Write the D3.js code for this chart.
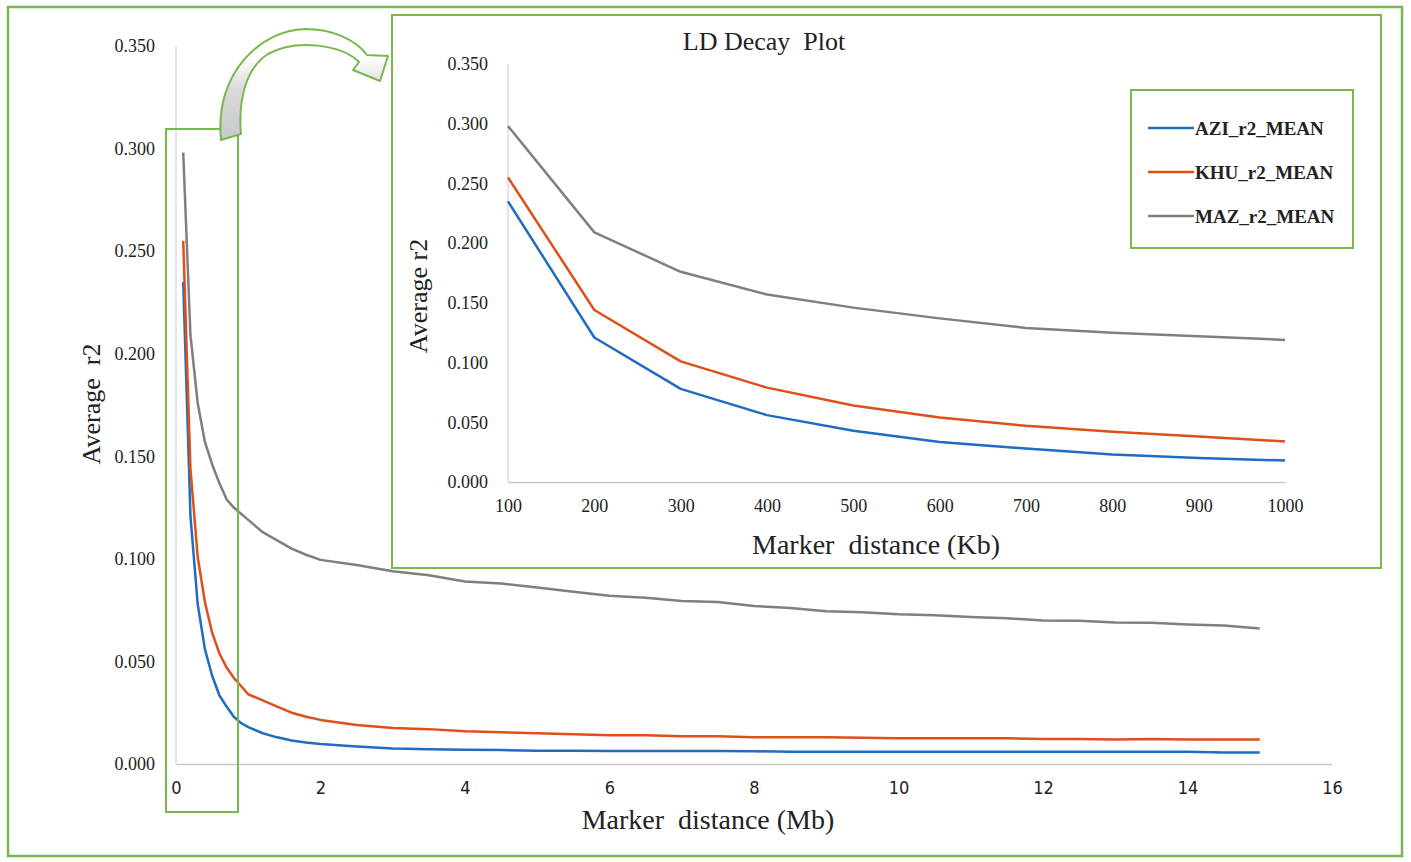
<!DOCTYPE html>
<html>
<head>
<meta charset="utf-8">
<script src="https://cdn.jsdelivr.net/npm/d3@7"></script>
<style>
  body { margin: 0; background: #fff; }
  text { fill: #222; }
</style>
</head>
<body>
<svg id="chart" width="1411" height="862"></svg>
<script>
// distances in Mb, the first ten are the 100..1000 Kb points shown in the inset
var distMb = [0.1,0.2,0.3,0.4,0.5,0.6,0.7,0.8,0.9,1.0,
  1.2,1.4,1.6,1.8,2.0,2.5,3,3.5,4,4.5,5,5.5,6,6.5,7,7.5,8,8.5,9,9.5,10,
  10.5,11,11.5,12,12.5,13,13.5,14,14.5,15];
var aziMean = [0.235,0.121,0.078,0.056,0.043,0.0335,0.028,0.023,0.020,0.018,
  0.015,0.013,0.0115,0.0105,0.0097,0.0085,0.0075,0.0072,0.0070,0.0068,0.0065,
  0.0064,0.0063,0.0063,0.0063,0.0063,0.0062,0.0060,0.0060,0.0060,0.0060,
  0.0060,0.0060,0.0060,0.0060,0.0060,0.0060,0.0060,0.0060,0.0056,0.0056];
var khuMean = [0.255,0.144,0.101,0.079,0.064,0.054,0.047,0.042,0.038,0.034,
  0.031,0.028,0.025,0.023,0.0215,0.019,0.0175,0.017,0.016,0.0155,0.015,
  0.0145,0.014,0.014,0.0135,0.0135,0.013,0.013,0.013,0.0128,0.0125,
  0.0125,0.0125,0.0125,0.0122,0.0122,0.012,0.0122,0.012,0.012,0.012];
var mazMean = [0.298,0.209,0.176,0.157,0.146,0.137,0.129,0.125,0.122,0.119,
  0.113,0.109,0.105,0.102,0.0995,0.097,0.094,0.092,0.089,0.088,0.086,
  0.084,0.082,0.081,0.0795,0.079,0.077,0.076,0.0745,0.074,0.073,
  0.0725,0.0717,0.071,0.070,0.0698,0.069,0.0688,0.068,0.0675,0.066];

var seriesNames = ["AZI_r2_MEAN", "KHU_r2_MEAN", "MAZ_r2_MEAN"];
var seriesColors = ["#1f6cc0", "#de4f1a", "#7f7f7f"];
var seriesValues = [aziMean, khuMean, mazMean];

var mainXTicks = [0,2,4,6,8,10,12,14,16];
var yTicks = [0,0.05,0.1,0.15,0.2,0.25,0.3,0.35];
var insetXTicks = [100,200,300,400,500,600,700,800,900,1000];
var insetCount = 10;

var green = "#77b84f";
var serif = "'Liberation Serif','Times New Roman',serif";
var narrow = "'Liberation Sans Narrow','DejaVu Sans Condensed','Liberation Sans',sans-serif";

var svg = d3.select("#chart");

// outer frame
svg.append("rect")
  .attr("x", 8).attr("y", 7).attr("width", 1394).attr("height", 849)
  .attr("fill", "#fff").attr("stroke", green).attr("stroke-width", 2.5);

// ---------- main chart ----------
var x = d3.scaleLinear().domain([0, 16]).range([176, 1332]);
var y = d3.scaleLinear().domain([0, 0.35]).range([764, 46]);

svg.append("line")
  .attr("x1", x(0)).attr("x2", x(0)).attr("y1", y(0)).attr("y2", y(0.35))
  .attr("stroke", "#d4d4d4").attr("stroke-width", 1.2);

svg.append("g")
  .attr("transform", "translate(0," + y(0) + ")")
  .call(d3.axisBottom(x).tickValues(mainXTicks).tickSize(0).tickPadding(17).tickFormat(d3.format("d")))
  .call(function(g) {
    g.select(".domain").attr("stroke", "#c8c8c8").attr("stroke-width", 1.5);
    g.selectAll("text").style("font-family", narrow)
      .style("font-size", "18px").attr("fill", "#333");
  });

svg.append("g")
  .attr("transform", "translate(" + (x(0) - 18) + ",0)")
  .call(d3.axisLeft(y).tickValues(yTicks).tickSize(0).tickFormat(d3.format(".3f")))
  .call(function(g) {
    g.select(".domain").remove();
    g.selectAll("text").style("font-family", serif).style("font-size", "18px").attr("fill", "#333");
  });

var mainLine = d3.line()
  .x(function(d) { return x(d[0]); })
  .y(function(d) { return y(d[1]); });

seriesValues.forEach(function(vals, i) {
  svg.append("path")
    .datum(distMb.map(function(d, j) { return [d, vals[j]]; }))
    .attr("fill", "none")
    .attr("stroke", seriesColors[i])
    .attr("stroke-width", 2.5)
    .attr("stroke-linejoin", "round")
    .attr("d", mainLine);
});

svg.append("text")
  .attr("x", 708).attr("y", 829)
  .attr("text-anchor", "middle")
  .style("font-family", serif).style("font-size", "28px")
  .attr("xml:space", "preserve")
  .text("Marker  distance (Mb)");

svg.append("text")
  .attr("transform", "translate(100,404)rotate(-90)")
  .attr("text-anchor", "middle")
  .style("font-family", serif).style("font-size", "26px")
  .attr("xml:space", "preserve")
  .text("Average  r2");

// zoom window around the first Mb
svg.append("rect")
  .attr("x", 166).attr("y", 129).attr("width", 72).attr("height", 683)
  .attr("fill", "none").attr("stroke", green).attr("stroke-width", 2);

// curved arrow
var grad = svg.append("defs").append("linearGradient")
  .attr("id", "arrowFill").attr("x1", 0).attr("y1", 1).attr("x2", 0).attr("y2", 0);
grad.append("stop").attr("offset", "0%").attr("stop-color", "#c9c9c9");
grad.append("stop").attr("offset", "45%").attr("stop-color", "#d9d9d9");
grad.append("stop").attr("offset", "75%").attr("stop-color", "#ffffff");

svg.append("path")
  .attr("d", "M221,140 C214,72 262,30 305,29 C333,29 356,40 367,55 L388,56 L380,81 L353,70 L359,62 C342,45 297,38 268,54 C246,68 238,100 241,134 Z")
  .attr("fill", "url(#arrowFill)")
  .attr("stroke", green).attr("stroke-width", 2).attr("stroke-linejoin", "round");

// ---------- inset ----------
svg.append("rect")
  .attr("x", 392).attr("y", 15).attr("width", 989).attr("height", 553)
  .attr("fill", "#fff").attr("stroke", green).attr("stroke-width", 2);

var ix = d3.scaleLinear().domain([100, 1000]).range([508, 1285]);
var iy = d3.scaleLinear().domain([0, 0.35]).range([482, 64]);

svg.append("line")
  .attr("x1", ix(100)).attr("x2", ix(100)).attr("y1", iy(0)).attr("y2", iy(0.35))
  .attr("stroke", "#d4d4d4").attr("stroke-width", 1.2);

svg.append("g")
  .attr("transform", "translate(0," + iy(0) + ")")
  .call(d3.axisBottom(ix).tickValues(insetXTicks).tickSize(0).tickPadding(17).tickFormat(d3.format("d")))
  .call(function(g) {
    g.select(".domain").attr("stroke", "#c8c8c8").attr("stroke-width", 1.5);
    g.selectAll("text").style("font-family", serif).style("font-size", "18px").attr("fill", "#333");
  });

svg.append("g")
  .attr("transform", "translate(" + (ix(100) - 17) + ",0)")
  .call(d3.axisLeft(iy).tickValues(yTicks).tickSize(0).tickFormat(d3.format(".3f")))
  .call(function(g) {
    g.select(".domain").remove();
    g.selectAll("text").style("font-family", serif).style("font-size", "18px").attr("fill", "#333");
  });

var insetLine = d3.line()
  .x(function(d) { return ix(d[0]); })
  .y(function(d) { return iy(d[1]); });

seriesValues.forEach(function(vals, i) {
  svg.append("path")
    .datum(distMb.slice(0, insetCount).map(function(d, j) { return [Math.round(d * 1000), vals[j]]; }))
    .attr("fill", "none")
    .attr("stroke", seriesColors[i])
    .attr("stroke-width", 2.5)
    .attr("stroke-linejoin", "round")
    .attr("d", insetLine);
});

svg.append("text")
  .attr("x", 764).attr("y", 50)
  .attr("text-anchor", "middle")
  .style("font-family", serif).style("font-size", "26px")
  .attr("xml:space", "preserve")
  .text("LD Decay  Plot");

svg.append("text")
  .attr("x", 876).attr("y", 554)
  .attr("text-anchor", "middle")
  .style("font-family", serif).style("font-size", "28px")
  .attr("xml:space", "preserve")
  .text("Marker  distance (Kb)");

svg.append("text")
  .attr("transform", "translate(427,296)rotate(-90)")
  .attr("text-anchor", "middle")
  .style("font-family", serif).style("font-size", "26px")
  .text("Average r2");

// legend
var legend = svg.append("g").attr("transform", "translate(1131,90)");
legend.append("rect")
  .attr("width", 222).attr("height", 158)
  .attr("fill", "#fff").attr("stroke", green).attr("stroke-width", 2);

var items = legend.selectAll("g.item").data(seriesNames).enter().append("g")
  .attr("class", "item")
  .attr("transform", function(d, i) { return "translate(0," + (38 + i * 44) + ")"; });
items.append("line")
  .attr("x1", 17).attr("x2", 63)
  .attr("stroke", function(d, i) { return seriesColors[i]; })
  .attr("stroke-width", 2.5);
items.append("text")
  .attr("x", 64).attr("dy", "0.35em")
  .style("font-family", serif).style("font-size", "19px").style("font-weight", "bold")
  .text(function(d) { return d; });
</script>
</body>
</html>
